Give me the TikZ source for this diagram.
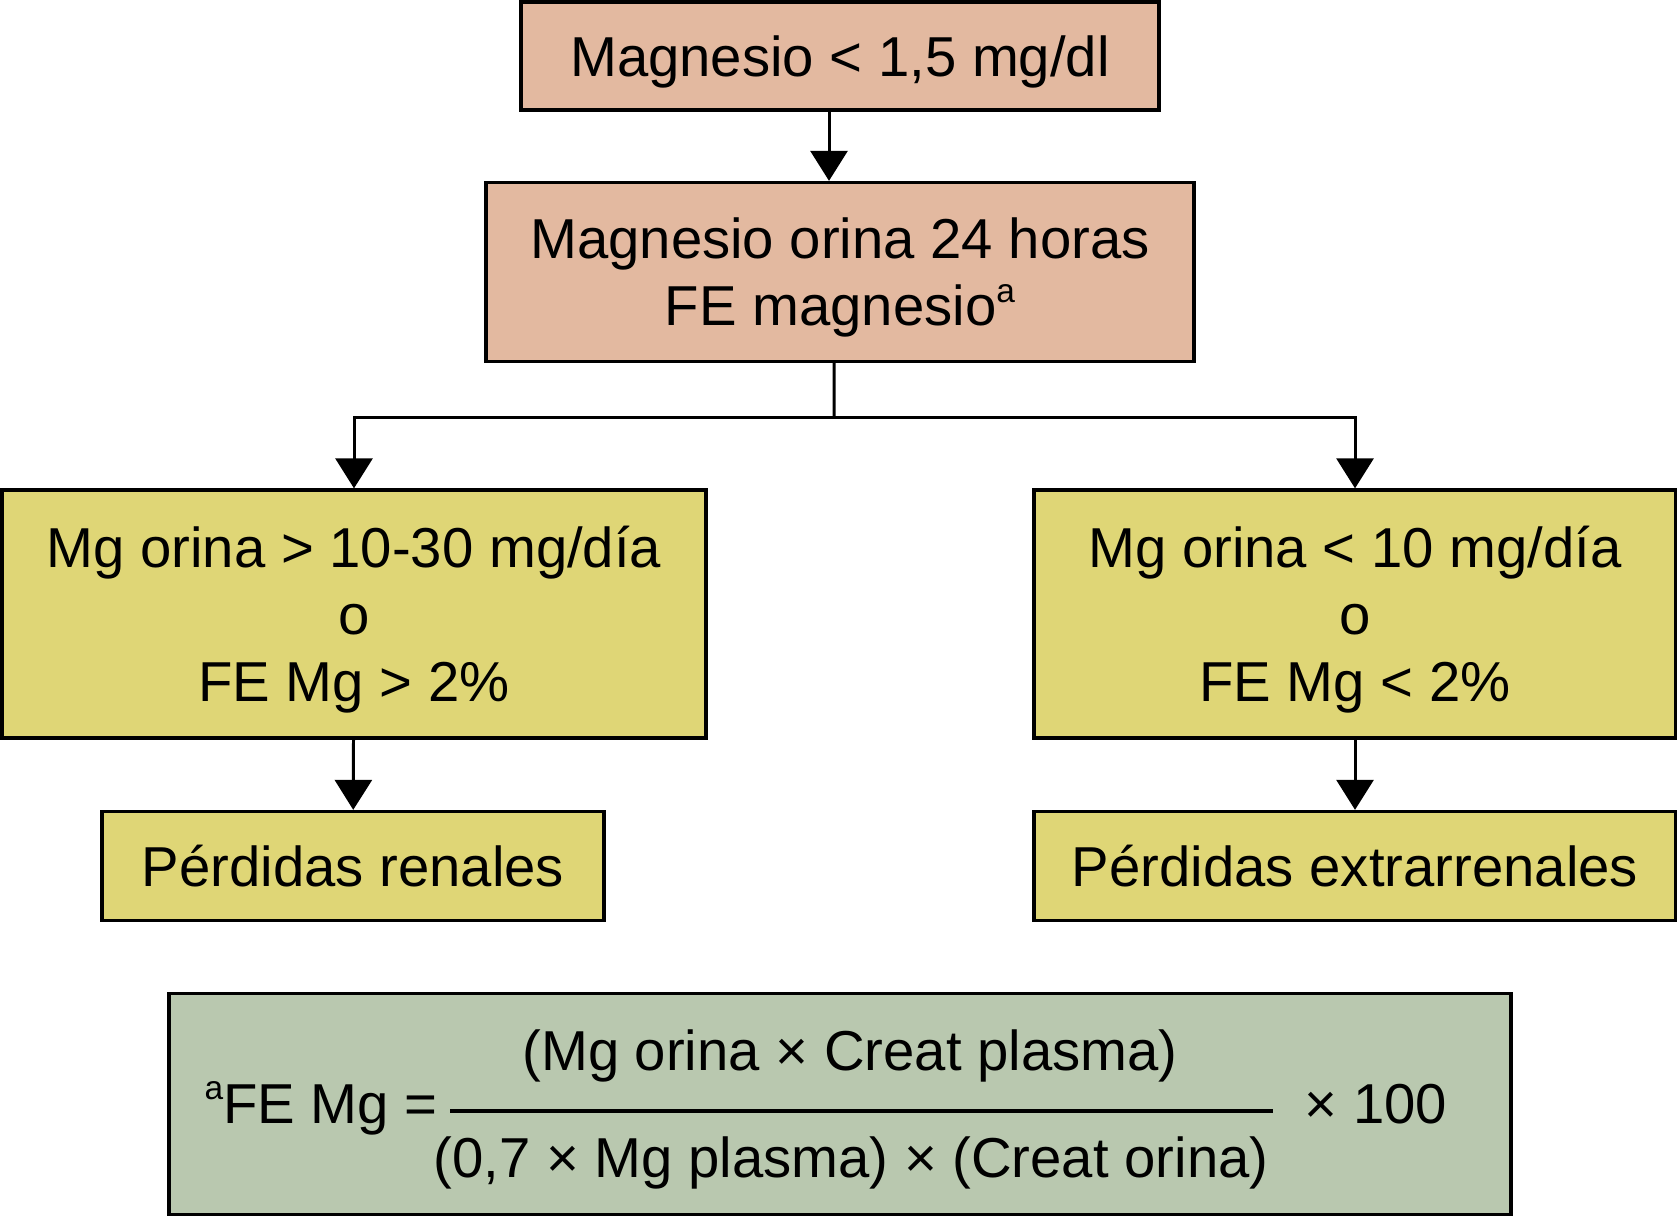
\documentclass[tikz,border=0pt]{standalone}
\usepackage{fontspec}
\setmainfont{Liberation Sans}
\usepackage{tikz}
\usepackage{xcolor}
\usetikzlibrary{arrows.meta, positioning, calc}

\definecolor{salmon}{RGB}{227,185,160}
\definecolor{olive}{RGB}{223,214,118}
\definecolor{sage}{RGB}{185,200,175}
\newcommand{\supa}{\raisebox{0.42em}{\fontsize{9.5}{10}\selectfont a}}

\begin{document}
\begin{tikzpicture}[x=0.01cm, y=-0.01cm,
    box/.style={draw, line width=0.95pt, inner sep=0pt, align=center, font=\fontsize{16}{19}\selectfont},
    formula/.style={font=\fontsize{16}{19}\selectfont, inner sep=0pt},
    link/.style={line width=0.85pt, -{Triangle[width=3.7mm, length=3mm]}}]
    \useasboundingbox (0,0) rectangle (1677,1217);

    % Top of the flow
    \node[box, fill=salmon, minimum width=638*0.01cm, minimum height=108*0.01cm, text depth=0pt] (low) at (840,56) {Magnesio < 1,5 mg/dl};
    \node[box, fill=salmon, minimum width=708*0.01cm, minimum height=179*0.01cm, text depth=0pt] (urine) at (840,272) {Magnesio orina 24 horas\\FE magnesio\supa};

    % The two branches
    \node[box, fill=olive, minimum width=704*0.01cm, minimum height=248*0.01cm, text depth=-0.15cm] (high) at (354,614) {Mg orina > 10-30 mg/día\\o\\FE Mg > 2\%};
    \node[box, fill=olive, minimum width=642*0.01cm, minimum height=248*0.01cm, text depth=-0.15cm] (lowmg) at (1355,614) {Mg orina < 10 mg/día\\o\\FE Mg < 2\%};
    \node[box, fill=olive, minimum width=502*0.01cm, minimum height=109*0.01cm] (renal) at (353,866) {Pérdidas renales};
    \node[box, fill=olive, minimum width=642*0.01cm, minimum height=109*0.01cm] (extra) at (1355,866) {Pérdidas extrarrenales};

    % Connectors
    \draw[link] ([xshift=-0.11cm]low.south) -- ([xshift=-0.11cm]urine.north);
    \coordinate (split) at (834,417);
    \draw[line width=0.85pt] ([xshift=-0.06cm]urine.south) -- (split);
    \draw[link] (split) -| (high.north);
    \draw[link] (split) -| (lowmg.north);
    \draw[link] (high) -- (renal);
    \draw[link] (lowmg) -- (extra);

    % Footnote formula
    \node[box, fill=sage, minimum width=1342*0.01cm, minimum height=221*0.01cm] (note) at (840,1104) {};
    \node[formula, anchor=base west] (lhs) at (204,1123) {\supa FE Mg =};
    \node[formula, anchor=base] (num) at (850,1070) {(Mg orina × Creat plasma)};
    \node[formula, anchor=base] (den) at (851,1177) {(0,7 × Mg plasma) × (Creat orina)};
    \node[formula, anchor=base west] (times) at (1304,1123) {× 100};
    \draw[line width=0.9pt] (450,1111) -- (1273,1111);
\end{tikzpicture}
\end{document}
